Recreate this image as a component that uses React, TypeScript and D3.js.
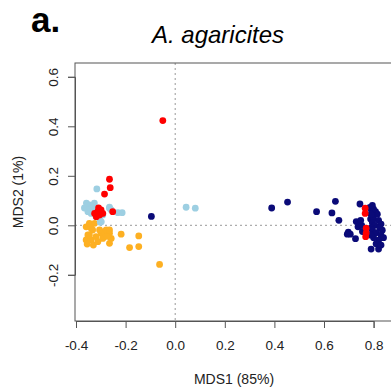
import React, { useEffect, useRef } from 'react';
import * as d3 from 'd3';

// MDS scores, grouped by colour
const orangePts: [number, number][] = [
  [-0.359, -0.006], [-0.339, -0.012], [-0.352, -0.039], [-0.359, -0.059], [-0.339, -0.059],
  [-0.319, -0.046], [-0.298, -0.032], [-0.285, -0.026], [-0.265, -0.032], [-0.258, -0.053],
  [-0.292, -0.053], [-0.312, -0.066], [-0.265, -0.073], [-0.218, -0.036], [-0.147, -0.043],
  [-0.184, -0.090], [-0.147, -0.086], [-0.063, -0.158], [-0.346, 0.008], [-0.325, 0.008],
  [-0.333, -0.019], [-0.305, -0.019], [-0.278, -0.019], [-0.346, -0.039], [-0.355, -0.076],
  [-0.330, -0.080], [-0.265, -0.019], [-0.275, -0.045],
];
const bluePts: [number, number][] = [
  [-0.316, 0.147], [-0.265, 0.069], [-0.231, 0.051], [-0.214, 0.051], [-0.302, 0.012],
  [0.044, 0.073], [0.081, 0.069], [-0.352, 0.075], [-0.346, 0.082], [-0.332, 0.069],
  [-0.352, 0.055], [-0.339, 0.048], [-0.319, 0.035], [-0.305, 0.028], [-0.298, 0.014],
  [-0.292, 0.042], [-0.265, 0.073], [-0.258, 0.062], [-0.366, 0.070], [-0.358, 0.090],
  [-0.326, 0.090],
];
const navyPts: [number, number][] = [
  [-0.096, 0.036], [0.389, 0.070], [0.453, 0.094], [0.570, 0.055], [0.646, 0.097],
  [0.632, 0.050], [0.660, 0.020], [0.745, 0.086], [0.730, 0.015], [0.737, -0.006],
  [0.698, -0.028], [0.706, -0.036], [0.694, -0.036], [0.727, -0.054], [0.790, -0.096],
  [0.820, -0.096], [0.808, 0.055], [0.785, 0.072], [0.792, 0.06], [0.80, 0.065],
  [0.815, 0.045], [0.795, 0.04], [0.788, 0.025], [0.80, 0.025], [0.82, 0.02],
  [0.83, 0.005], [0.795, 0.01], [0.805, 0.0], [0.825, -0.01], [0.835, -0.02],
  [0.79, -0.01], [0.795, -0.02], [0.81, -0.03], [0.83, -0.04], [0.84, -0.05],
  [0.82, -0.06], [0.80, -0.05], [0.79, -0.04], [0.81, -0.075], [0.83, -0.08],
  [0.752, 0.0], [0.748, 0.02], [0.755, -0.025], [0.795, 0.08], [0.79, 0.045],
];
const redPts: [number, number][] = [
  [-0.05, 0.423], [-0.265, 0.186], [-0.262, 0.152], [-0.285, 0.126], [-0.252, 0.055],
  [-0.325, 0.048], [-0.312, 0.055], [-0.299, 0.062], [-0.305, 0.042], [-0.318, 0.035],
  [-0.292, 0.048], [-0.309, 0.070], [0.766, 0.069], [0.766, 0.048], [0.770, -0.012],
  [0.770, -0.032], [0.768, -0.046],
];
const xTicks = [-0.4, -0.2, 0.0, 0.2, 0.4, 0.6, 0.8];
const yTicks = [-0.2, 0.0, 0.2, 0.4, 0.6];

// R prints a plain hyphen for negatives
const fmt = (d: any) => d3.format('.1f')(d).replace('\u2212', '-');

const App = () => {
  const ref = useRef<SVGSVGElement>(null);

  useEffect(() => {
    const svg = d3.select(ref.current);
    svg.selectAll('*').remove();

    const x = d3.scaleLinear().domain([-0.4, 0.8]).range([76, 373.6]);
    const y = d3.scaleLinear().domain([-0.2, 0.6]).range([274.8, 76.8]);
    const left = 75, top = 63, bottom = 321, right = 393;
    const font = 'Liberation Sans, Arial, Helvetica, sans-serif';

    svg.append('text').attr('x', 31).attr('y', 32)
      .attr('font-family', font).attr('font-weight', 'bold').attr('font-size', 35)
      .text('a.');
    svg.append('text').attr('x', 218).attr('y', 43).attr('text-anchor', 'middle')
      .attr('font-family', font).attr('font-style', 'italic').attr('font-size', 24)
      .text('A. agaricites');

    // reference lines
    svg.append('line').attr('x1', x(0)).attr('x2', x(0)).attr('y1', top).attr('y2', bottom)
      .attr('stroke', '#999').attr('stroke-dasharray', '2,3');
    svg.append('line').attr('x1', left).attr('x2', right).attr('y1', y(0)).attr('y2', y(0))
      .attr('stroke', '#999').attr('stroke-dasharray', '2,3');

    const groups: [[number, number][], string][] = [
      [orangePts, '#FDB022'],
      [bluePts, '#9DCFE2'],
      [navyPts, '#0A0A78'],
      [redPts, '#FF0000'],
    ];
    groups.forEach(([pts, col]) => {
      svg.append('g').selectAll('circle').data(pts).enter().append('circle')
        .attr('cx', d => x(d[0])).attr('cy', d => y(d[1])).attr('r', 3.4)
        .attr('fill', col);
    });

    svg.append('rect').attr('x', left).attr('y', top)
      .attr('width', right - left).attr('height', bottom - top)
      .attr('fill', 'none').attr('stroke', '#555').attr('stroke-width', 1);

    const xAxis = svg.append('g').attr('transform', `translate(0,${bottom})`)
      .call(d3.axisBottom(x).tickValues(xTicks).tickFormat(fmt).tickSize(7).tickPadding(12));
    xAxis.select('.domain').attr('stroke', '#555');
    xAxis.selectAll('line').attr('stroke', '#555');
    xAxis.selectAll('text').attr('font-family', font).attr('font-size', 13.5).attr('fill', '#222');

    const yAxis = svg.append('g').attr('transform', `translate(${left},0)`)
      .call(d3.axisLeft(y).tickValues(yTicks).tickFormat(fmt).tickSize(7));
    yAxis.select('.domain').attr('stroke', '#555');
    yAxis.selectAll('line').attr('stroke', '#555');
    yAxis.selectAll('.tick text')
      .attr('font-family', font).attr('font-size', 13.5).attr('fill', '#222')
      .attr('x', 0).attr('y', 0).attr('dy', 0)
      .attr('text-anchor', 'middle')
      .attr('transform', 'translate(-17.5,0) rotate(-90)');

    svg.append('text').attr('x', 234).attr('y', 384).attr('text-anchor', 'middle')
      .attr('font-family', font).attr('font-size', 14).attr('fill', '#222')
      .text('MDS1 (85%)');
    svg.append('text').attr('transform', `translate(23,${(top + bottom) / 2}) rotate(-90)`)
      .attr('text-anchor', 'middle')
      .attr('font-family', font).attr('font-size', 14).attr('fill', '#222')
      .text('MDS2 (1%)');
  }, []);

  return (
    <svg ref={ref} width={391} height={387}
      style={{ position: 'absolute', left: 0, top: 0, background: '#fff' }} />
  );
};

export default App;
